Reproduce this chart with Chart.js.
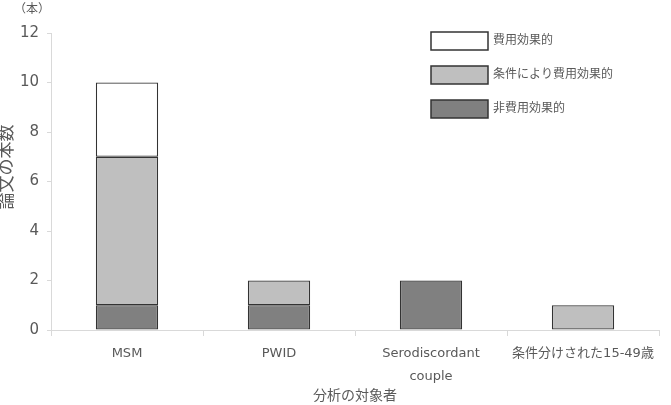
<!DOCTYPE html>
<html>
<head>
<meta charset="utf-8">
<script src="https://cdn.jsdelivr.net/npm/chart.js@4/dist/chart.umd.min.js"></script>
<style>
  html, body { margin: 0; padding: 0; background: #fff; }
  #wrap { width: 671px; height: 405px; position: relative; }
</style>
</head>
<body>
<div id="wrap"><canvas id="c"></canvas></div>
<script>
// Data
var categories = ['MSM', 'PWID', ['Serodiscordant', 'couple'], '条件分けされた15-49歳'];
var notCostEffective = [1, 1, 2, 0];          // 非費用効果的
var conditionallyCostEffective = [6, 1, 0, 1]; // 条件により費用効果的
var costEffective = [3, 0, 0, 0];              // 費用効果的
var yTicks = [0, 2, 4, 6, 8, 10, 12];

var FONT = '"DejaVu Sans", "Noto Sans CJK JP", sans-serif';
var TEXT = '#595959';

// Legend boxes, unit label and y title, drawn after the chart
var boxLegend = {
  id: 'boxLegend',
  afterDraw: function (chart) {
    var ctx = chart.ctx;
    var sets = chart.data.datasets.slice().reverse();
    ctx.save();
    sets.forEach(function (ds, i) {
      var x = 431, y = 32 + i * 34;
      ctx.fillStyle = ds.backgroundColor;
      ctx.fillRect(x, y, 57, 18);
      ctx.strokeStyle = '#333';
      ctx.lineWidth = 1.5;
      ctx.strokeRect(x, y, 57, 18);
      ctx.fillStyle = TEXT;
      ctx.font = '12px ' + FONT;
      ctx.textBaseline = 'middle';
      ctx.fillText(ds.label, x + 62, y + 9);
    });
    ctx.font = '12px ' + FONT;
    ctx.fillStyle = TEXT;
    ctx.fillText('（本）', 14, 10);

    // y axis title, rotated
    ctx.translate(8, 167);
    ctx.rotate(-Math.PI / 2);
    ctx.textAlign = 'center';
    ctx.font = '17px ' + FONT;
    ctx.fillText('論文の本数', 0, 0);
    ctx.restore();
  }
};

new Chart(document.getElementById('c'), {
  type: 'bar',
  data: {
    labels: categories,
    datasets: [
      { label: '非費用効果的', data: notCostEffective, backgroundColor: '#808080' },
      { label: '条件により費用効果的', data: conditionallyCostEffective, backgroundColor: '#bfbfbf' },
      { label: '費用効果的', data: costEffective, backgroundColor: '#ffffff' }
    ].map(function (d) {
      d.borderColor = '#333333';
      d.borderWidth = 1.3;
      d.borderSkipped = false;
      d.barPercentage = 0.41;
      d.categoryPercentage = 1;
      return d;
    })
  },
  options: {
    responsive: true,
    maintainAspectRatio: false,
    animation: false,
    layout: { padding: { top: 33, right: 12, left: 0, bottom: 0 } },
    plugins: { legend: { display: false }, tooltip: { enabled: false } },
    scales: {
      x: {
        stacked: true,
        grid: { display: true, drawOnChartArea: false, offset: true, color: '#d9d9d9', tickLength: 6 },
        border: { color: '#d9d9d9', width: 1 },
        ticks: { color: TEXT, font: { family: FONT, size: 13, lineHeight: 1.75 }, maxRotation: 0, autoSkip: false, padding: 6 },
        title: { display: true, text: '分析の対象者', color: TEXT, font: { family: FONT, size: 14 }, padding: { top: 0, bottom: 0 } },
        afterFit: function (s) { s.height = 75; }
      },
      y: {
        stacked: true,
        min: 0,
        max: 12,
        afterBuildTicks: function (s) { s.ticks = yTicks.map(function (v) { return { value: v }; }); },
        grid: { drawOnChartArea: false, color: '#d9d9d9', tickLength: 4 },
        border: { color: '#d9d9d9', width: 1 },
        ticks: { color: TEXT, font: { family: FONT, size: 15 }, padding: 8 },
        afterFit: function (s) { s.width = 51; }
      }
    }
  },
  plugins: [boxLegend]
});
</script>
</body>
</html>
